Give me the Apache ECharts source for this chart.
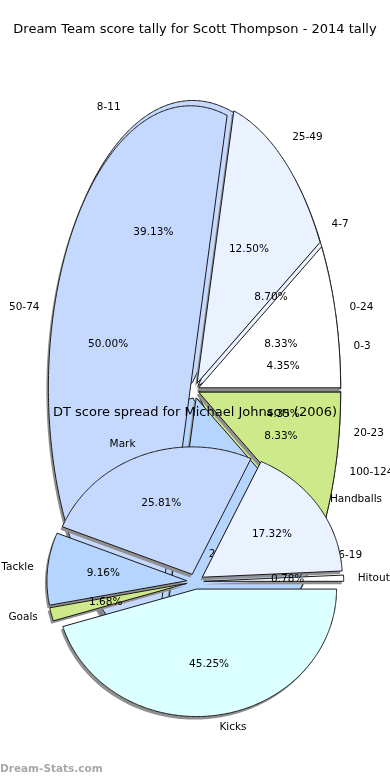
<!DOCTYPE html>
<html><head><meta charset="utf-8">
<script src="https://cdn.jsdelivr.net/npm/echarts@6/dist/echarts.min.js"></script>
<style>html,body{margin:0;padding:0;background:#fff}#c{width:390px;height:780px}</style>
</head><body><div id="c"></div>
<script>
const chart1Title = 'Dream Team score tally for Scott Thompson - 2014 tally';
const chart2Title = 'DT score spread for Michael Johnson (2006)';
const watermark = 'Dream-Stats.com';
const tallyBands = ['0-3', '4-7', '8-11', '12-15', '16-19', '20-23'];
const tallyCounts = [1, 2, 9, 8, 2, 1];
const scoreBands = ['0-24', '25-49', '50-74', '75-99', '100-124'];
const scoreCounts = [2, 3, 12, 5, 2];
const statNames = ['Hitout', 'Handballs', 'Mark', 'Tackle', 'Goals', 'Kicks'];
const statShares = [0.78, 17.32, 25.81, 9.16, 1.68, 45.25];
const palette = ['#ffffff', '#eaf1ff', '#c5d9ff', '#b5d5ff', '#cde98a', '#dcffff'];

const FONT = '"DejaVu Sans", sans-serif';
const pie1 = {cx: 194.5, cy: 390, rx: 142, ry: 282, explode: 0.03};
const pie2 = {cx: 195.3, cy: 581.5, rx: 140, ry: 127.5, explode: 0.06};

function slices(values) {
  const total = values.reduce((a, b) => a + b, 0);
  let acc = 0;
  return values.map(v => {
    const a0 = acc / total * 360; acc += v;
    return {a0: a0, a1: acc / total * 360, pct: v / total * 100};
  });
}
function slicePoints(g, s, dx, dy) {
  const mid = (s.a0 + s.a1) / 2 * Math.PI / 180;
  const ox = g.explode * g.rx * Math.cos(mid) + dx;
  const oy = -g.explode * g.ry * Math.sin(mid) + dy;
  const pts = [[g.cx + ox, g.cy + oy]];
  const n = Math.max(2, Math.ceil((s.a1 - s.a0) / 0.5));
  for (let i = 0; i <= n; i++) {
    const a = (s.a0 + (s.a1 - s.a0) * i / n) * Math.PI / 180;
    pts.push([g.cx + ox + g.rx * Math.cos(a), g.cy + oy - g.ry * Math.sin(a)]);
  }
  return pts;
}
function sliceSeries(names, values, g, z) {
  const geo = slices(values);
  return {
    type: 'custom', coordinateSystem: 'none', z: z, silent: true,
    data: values.map((v, i) => ({name: names[i], value: v})),
    renderItem: function (params) {
      const i = params.dataIndex, s = geo[i];
      return {type: 'group', children: [
        {type: 'polygon', shape: {points: slicePoints(g, s, -2, 3)}, style: {fill: '#909090'}},
        {type: 'polygon', shape: {points: slicePoints(g, s, 0, 0)},
         style: {fill: palette[i % palette.length], stroke: '#1a1a1a', lineWidth: 1}}
      ]};
    }
  };
}
function labelSeries(names, values, g, z) {
  const geo = slices(values);
  return {
    type: 'custom', coordinateSystem: 'none', z: z, silent: true,
    data: values.map((v, i) => ({name: names[i], value: v})),
    renderItem: function (params) {
      const i = params.dataIndex, s = geo[i];
      const mid = (s.a0 + s.a1) / 2 * Math.PI / 180;
      const c = Math.cos(mid), sn = Math.sin(mid);
      const kIn = 0.6 + g.explode, kOut = 1.1 + g.explode;
      return {type: 'group', children: [
        {type: 'text', x: g.cx + kIn * g.rx * c, y: g.cy - kIn * g.ry * sn,
         style: {text: s.pct.toFixed(2) + '%', fill: '#000', fontSize: 10.5, fontFamily: FONT,
                 align: 'center', verticalAlign: 'middle'}},
        {type: 'text', x: g.cx + kOut * g.rx * c, y: g.cy - kOut * g.ry * sn,
         style: {text: names[i], fill: '#000', fontSize: 10.5, fontFamily: FONT,
                 align: c >= 0 ? 'left' : 'right', verticalAlign: 'middle'}}
      ]};
    }
  };
}

const chart = echarts.init(document.getElementById('c'), null, {renderer: 'canvas'});
chart.setOption({
  animation: false,
  backgroundColor: '#ffffff',
  title: [
    {text: chart1Title, left: 'center', top: 23, padding: 0,
     textStyle: {fontFamily: FONT, fontSize: 13, fontWeight: 'normal', color: '#000'}},
    {text: chart2Title, left: 'center', top: 406, padding: 0,
     textStyle: {fontFamily: FONT, fontSize: 13, fontWeight: 'normal', color: '#000'}},
    {text: watermark, left: 0, top: 764, padding: 0,
     textStyle: {fontFamily: FONT, fontSize: 10.5, fontWeight: 'bold', color: '#a8a8a8'}}
  ],
  series: [
    sliceSeries(tallyBands, tallyCounts, pie1, 1),
    sliceSeries(scoreBands, scoreCounts, pie1, 2),
    labelSeries(tallyBands, tallyCounts, pie1, 3),
    labelSeries(scoreBands, scoreCounts, pie1, 3),
    sliceSeries(statNames, statShares, pie2, 4),
    labelSeries(statNames, statShares, pie2, 5)
  ]
});
</script></body></html>
